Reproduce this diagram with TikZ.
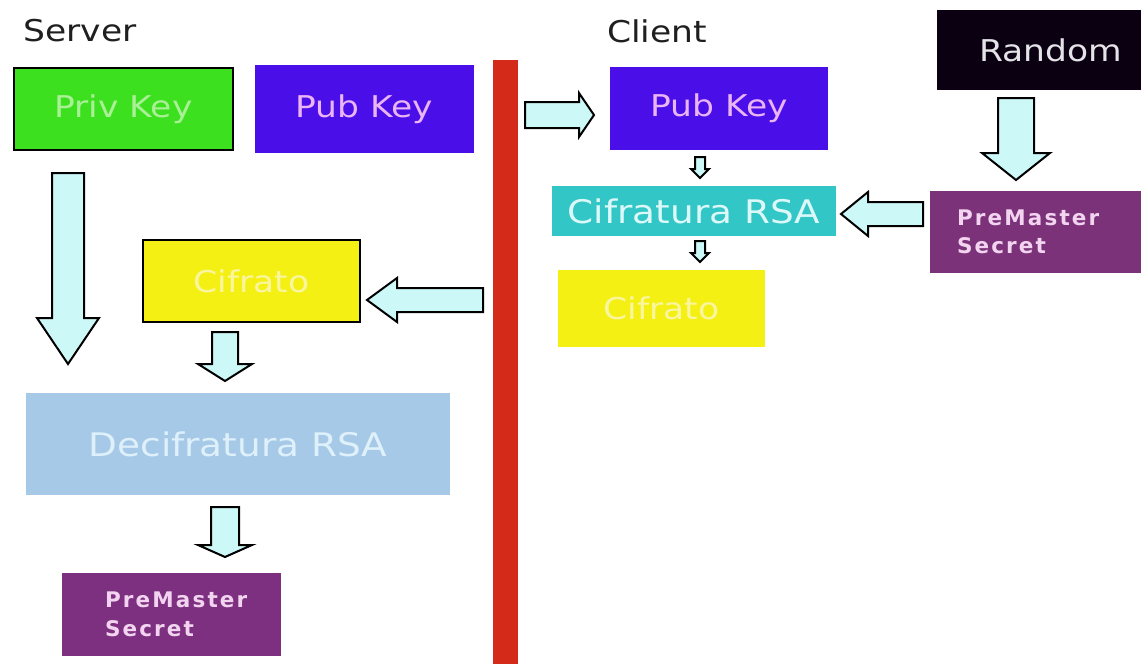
\documentclass[tikz,border=0pt]{standalone}
\usepackage{fontspec}
\setmainfont{DejaVu Sans}[FakeStretch=1.15]
\newfontfamily\pmfont{DejaVu Sans}[LetterSpace=10]
\definecolor{arrfill}{HTML}{CCF8F8}
\definecolor{privgreen}{HTML}{3DE01F}
\definecolor{pubblue}{HTML}{4A0EE8}
\definecolor{cifteal}{HTML}{33C6C6}
\definecolor{cifyellow}{HTML}{F5F014}
\definecolor{decblue}{HTML}{A6C9E8}
\definecolor{randblack}{HTML}{0A0012}
\definecolor{pmpurple}{HTML}{7B3279}
\definecolor{barred}{HTML}{D42A1A}
\definecolor{pmtext}{HTML}{F2D4F0}
\newcommand{\blkdown}[6]{% cx, ytop, yhead, ytip, shaft half, head half
  \filldraw[blockarrow] ({#1-#5},#2) -- ({#1+#5},#2) -- ({#1+#5},#3) -- ({#1+#6},#3)
    -- (#1,#4) -- ({#1-#6},#3) -- ({#1-#5},#3) -- cycle;}
\newcommand{\blkhoriz}[6]{% cy, xstart, xhead, xtip, shaft half, head half
  \filldraw[blockarrow] (#2,{#1-#5}) -- (#3,{#1-#5}) -- (#3,{#1-#6}) -- (#4,#1)
    -- (#3,{#1+#6}) -- (#3,{#1+#5}) -- (#2,{#1+#5}) -- cycle;}
\tikzset{
  blockarrow/.style={fill=arrfill, draw=black, line width=2pt, line join=miter},
  box/.style={inner sep=0pt, font=\fontsize{30}{36}\selectfont},
  pmbox/.style={box, fill=pmpurple, text=pmtext, align=left,
    font=\pmfont\bfseries\fontsize{21.5}{28.5}\selectfont},
  title/.style={inner sep=0pt, text=black!88, font=\fontsize{30}{36}\selectfont}
}
\begin{document}
\begin{tikzpicture}[x=1pt,y=-1pt]
\clip (0,0) rectangle (1141,664);
\fill[white] (0,0) rectangle (1141,664);

% titles
\node[title] (server) at (80,31) {Server};
\node[title] (client) at (657,31) {Client};

% red separator
\fill[barred] (493,60) rectangle (518,670);

% server side
\node[box, fill=privgreen, draw=black, line width=1.6pt, text={rgb,255:red,170;green,240;blue,150},
  minimum width=219pt, minimum height=82pt] (priv) at (123.5,109) {Priv Key};
\node[box, fill=pubblue, text={rgb,255:red,235;green,180;blue,245},
  minimum width=219pt, minimum height=88pt] (spub) at (364.5,109) {Pub Key};
\node[box, fill=cifyellow, draw=black, line width=1.6pt, text={rgb,255:red,250;green,246;blue,160},
  minimum width=217pt, minimum height=82pt] (scif) at (251.5,281) {Cifrato};
\node[box, fill=decblue, text={rgb,255:red,222;green,240;blue,250},
  font=\fontsize{32.5}{38}\selectfont,
  minimum width=424pt, minimum height=102pt] (dec) at (238,444) {Decifratura RSA};
\node[pmbox, fill={rgb,255:red,126;green,48;blue,128}, minimum height=83pt, text width=133pt,
  inner xsep=43pt] (spm) at (171.5,614.5) {PreMaster\\Secret};

% client side
\node[box, fill=pubblue, text={rgb,255:red,235;green,180;blue,245},
  minimum width=218pt, minimum height=83pt] (cpub) at (719,108.5) {Pub Key};
\node[box, fill=cifteal, text={rgb,255:red,220;green,248;blue,248},
  font=\fontsize{32.5}{38}\selectfont,
  minimum width=284pt, minimum height=50pt] (cifr) at (694,211) {Cifratura RSA};
\node[box, fill=cifyellow, text={rgb,255:red,250;green,246;blue,160},
  minimum width=207pt, minimum height=77pt] (ccif) at (661.5,308.5) {Cifrato};
\node[box, fill=randblack, text={rgb,255:red,228;green,228;blue,232},
  minimum width=228pt, minimum height=80pt] (rand) at (1051,50) {Random};
\node[pmbox, minimum height=82pt, text width=176pt, inner xsep=27pt] (cpm) at (1045,232)
  {PreMaster\\Secret};

% block arrows
\blkdown{68}{173}{318}{364}{16}{31}
\blkdown{225}{332}{364}{381}{13}{27}
\blkdown{225}{507}{545}{557}{14}{27}
\blkdown{700}{157}{169}{178}{5}{9}
\blkdown{700}{241}{253}{262}{5}{9}
\blkdown{1016}{98}{153}{180}{18}{34}
\blkhoriz{115}{525}{579}{594}{13}{22}
\blkhoriz{214}{923}{868}{841}{12}{22}
\blkhoriz{300}{483}{397}{367}{12}{22}
\end{tikzpicture}
\end{document}
